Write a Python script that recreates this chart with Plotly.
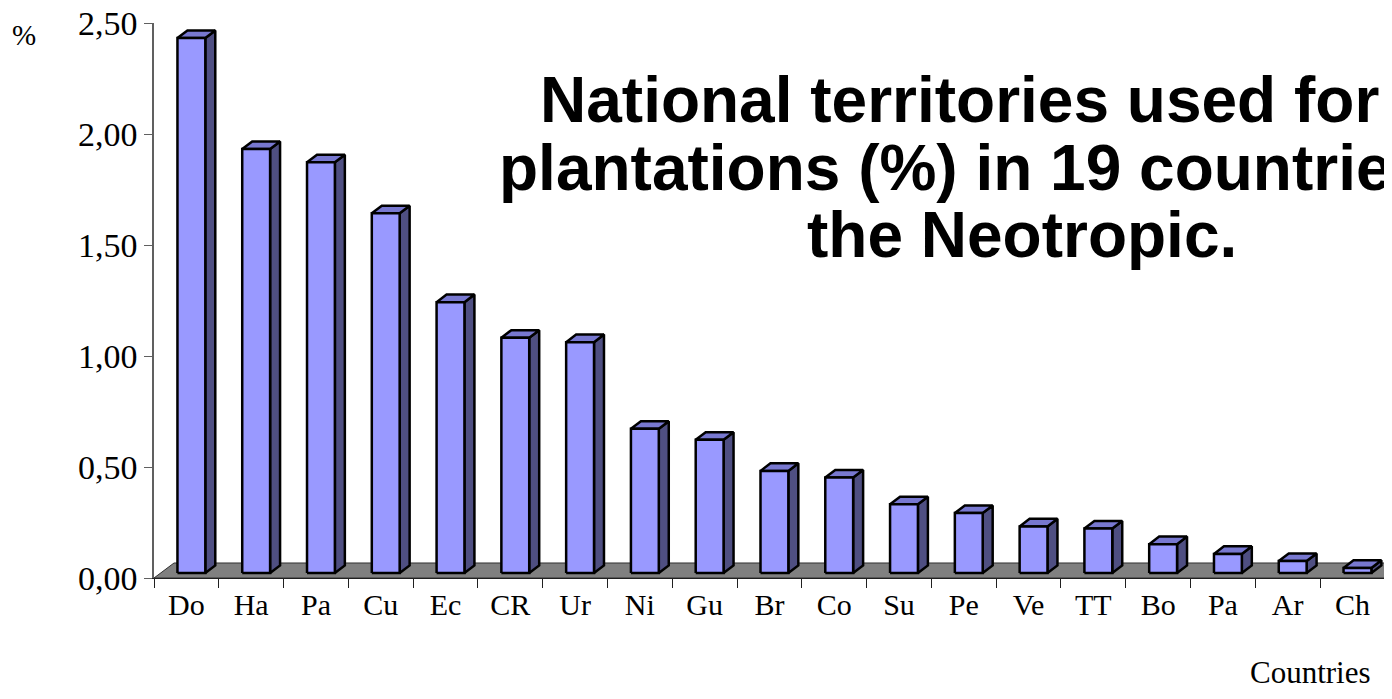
import plotly.graph_objects as go

# data
countries = ["Do", "Ha", "Pa", "Cu", "Ec", "CR", "Ur", "Ni", "Gu", "Br",
             "Co", "Su", "Pe", "Ve", "TT", "Bo", "Pa", "Ar", "Ch"]
share = [2.41, 1.91, 1.85, 1.62, 1.22, 1.06, 1.04, 0.65, 0.60, 0.46,
         0.43, 0.31, 0.27, 0.21, 0.20, 0.13, 0.086, 0.054, 0.023]
y_ticks = [0, 0.5, 1.0, 1.5, 2.0, 2.5]

title_lines = ["National territories used for",
               "plantations (%) in 19 countries of",
               "the Neotropic."]

# fake 3d geometry (data units)
n = len(countries)
bar_w = 0.43
front_dx, front_dy = 0.077, 0.0225   # bar front sits a bit inside the floor
depth_dx, depth_dy = 0.154, 0.034    # bar depth
floor_dx, floor_dy = 0.309, 0.0676   # floor depth

front_x, front_y, side_x, side_y, top_x, top_y = [], [], [], [], [], []
for i, v in enumerate(share):
    x0 = i + 0.5 - bar_w / 2 + front_dx
    x1 = x0 + bar_w
    b = front_dy
    t = front_dy + v
    front_x += [x0, x1, x1, x0, x0, None]
    front_y += [b, b, t, t, b, None]
    side_x += [x1, x1 + depth_dx, x1 + depth_dx, x1, x1, None]
    side_y += [b, b + depth_dy, t + depth_dy, t, b, None]
    top_x += [x0, x1, x1 + depth_dx, x0 + depth_dx, x0, None]
    top_y += [t, t, t + depth_dy, t + depth_dy, t, None]

fig = go.Figure()

# floor
fig.add_trace(go.Scatter(
    x=[0, n, n + floor_dx, floor_dx, 0],
    y=[0, 0, floor_dy, floor_dy, 0],
    fill="toself", fillcolor="#808080", mode="lines",
    line=dict(color="#303030", width=1), hoverinfo="skip"))

for xs, ys, col in [(side_x, side_y, "#4f4f82"),
                    (top_x, top_y, "#7878d0"),
                    (front_x, front_y, "#9999ff")]:
    fig.add_trace(go.Scatter(
        x=xs, y=ys, fill="toself", fillcolor=col, mode="lines",
        line=dict(color="black", width=2.5), hoverinfo="skip"))

# the page body adds an 8px offset, margins compensate for it
fig.update_layout(
    width=1392, height=699,
    margin=dict(l=146, r=8, t=15, b=129),
    paper_bgcolor="white", plot_bgcolor="white",
    showlegend=False,
    separators=",.",
    font=dict(family="Liberation Serif", color="black"),
)

fig.update_xaxes(
    range=[0, n + 0.11],
    automargin=False,
    tickmode="array",
    tickvals=[i + 0.5 for i in range(n)],
    ticktext=countries,
    ticks="",
    minor=dict(tickmode="array", tickvals=list(range(n + 1)),
               ticks="outside", ticklen=9, tickcolor="#202020", tickwidth=1),
    showline=True, linecolor="#202020", linewidth=1,
    showgrid=False, zeroline=False,
    ticklabeloverflow="allow",
    tickfont=dict(family="Liberation Serif", size=30),
)

fig.update_yaxes(
    range=[0, 2.5],
    automargin=False,
    tickmode="array", tickvals=y_ticks, tickformat=".2f",
    ticks="outside", ticklen=8, tickcolor="#606060",
    showline=True, linecolor="#606060", linewidth=1.5,
    showgrid=False, zeroline=False,
    ticklabeloverflow="allow",
    tickfont=dict(family="Liberation Serif", size=34),
)

# plot area on the page: x 154..1392, y 23..578
def px(x):
    return (x - 154) / 1238


def py(y):
    return (578 - y) / 555


fig.add_annotation(text="%", xref="paper", yref="paper",
                   x=px(24), y=py(35), xanchor="center", yanchor="middle",
                   showarrow=False, font=dict(family="Liberation Serif", size=29))
fig.add_annotation(text="Countries", xref="paper", yref="paper",
                   x=px(1310), y=py(672), xanchor="center", yanchor="middle",
                   showarrow=False, font=dict(family="Liberation Serif", size=31))

# chart title, three lines left-aligned, running off the right edge like the original
title_x = [px(538), px(497), px(805)]
title_y = [py(100), py(168), py(235)]
for txt, tx, ty in zip(title_lines, title_x, title_y):
    fig.add_annotation(text="<b>" + txt + "</b>", xref="paper", yref="paper",
                       x=tx, y=ty, xanchor="left", yanchor="middle",
                       showarrow=False,
                       font=dict(family="Liberation Sans", size=64, color="black"))

fig.write_html("out.html")
